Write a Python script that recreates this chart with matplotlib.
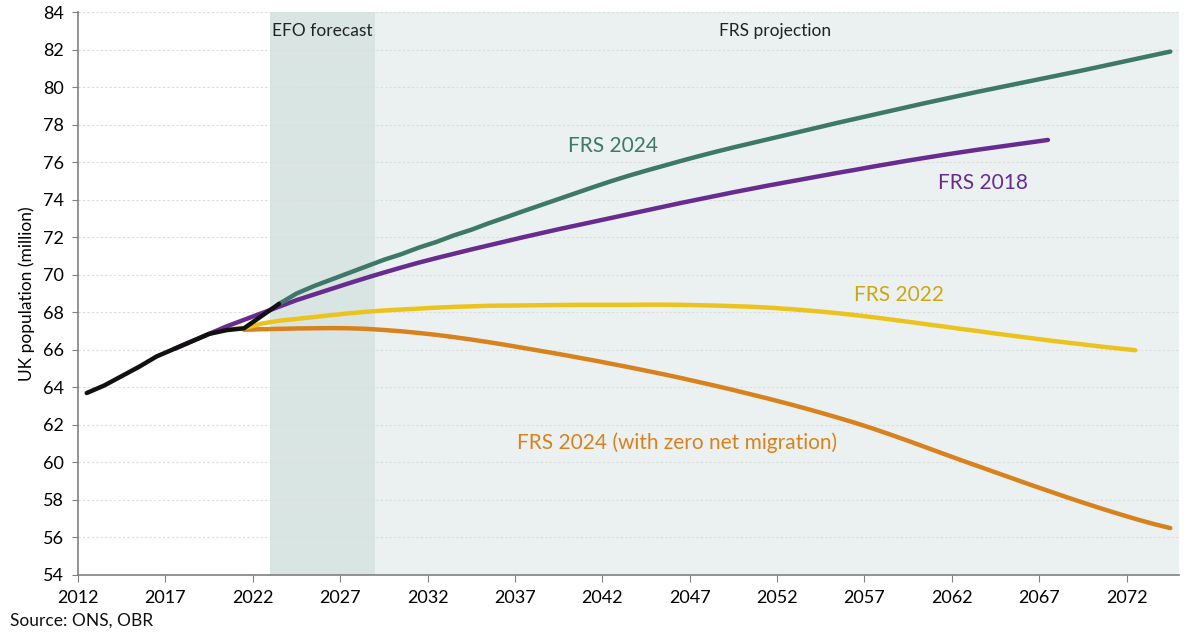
import matplotlib
matplotlib.use("Agg")
import matplotlib.pyplot as plt
import numpy as np

plt.rcParams['font.family'] = ['Lato', 'DejaVu Sans']

# ---- data (UK population, million) ----
outturn_years = list(range(2012, 2024))
outturn = [63.7, 64.1, 64.6, 65.1, 65.65, 66.05, 66.45, 66.85, 67.05, 67.15, 67.8, 68.45]

frs2018_years = list(range(2017, 2068))
frs2018 = [66.05, 66.45, 66.85, 67.25, 67.6, 67.95, 68.3, 68.65, 68.95, 69.25,
           69.55, 69.84, 70.12, 70.39, 70.65, 70.89, 71.12, 71.35, 71.57, 71.79,
           72.01, 72.22, 72.43, 72.63, 72.83, 73.03, 73.23, 73.43, 73.63, 73.83,
           74.02, 74.21, 74.4, 74.58, 74.76, 74.93, 75.1, 75.27, 75.44, 75.6,
           75.77, 75.93, 76.09, 76.24, 76.39, 76.53, 76.67, 76.8, 76.93, 77.06,
           77.19]

frs2024_years = list(range(2023, 2075))
frs2024 = [68.45, 69.0, 69.4, 69.75, 70.1, 70.45, 70.8, 71.1, 71.45, 71.75,
           72.1, 72.4, 72.75, 73.07, 73.4, 73.72, 74.04, 74.36, 74.68, 74.99,
           75.28, 75.55, 75.81, 76.07, 76.32, 76.56, 76.79, 77.01, 77.23, 77.45,
           77.67, 77.89, 78.11, 78.32, 78.53, 78.74, 78.95, 79.16, 79.36, 79.56,
           79.76, 79.95, 80.14, 80.33, 80.52, 80.71, 80.9, 81.1, 81.3, 81.5,
           81.7, 81.9]

frs2022_years = list(range(2020, 2073))
frs2022 = [67.1, 67.15, 67.4, 67.55, 67.65, 67.75, 67.85, 67.95, 68.03, 68.1,
           68.15, 68.2, 68.25, 68.29, 68.32, 68.35, 68.36, 68.37, 68.38, 68.39,
           68.4, 68.4, 68.4, 68.4, 68.41, 68.41, 68.4, 68.38, 68.36, 68.33,
           68.3, 68.25, 68.19, 68.12, 68.04, 67.95, 67.85, 67.74, 67.62, 67.5,
           67.37, 67.25, 67.12, 67.0, 66.87, 66.75, 66.63, 66.51, 66.4, 66.29,
           66.18, 66.08, 65.98]

zero_mig_years = list(range(2021, 2075))
zero_mig = [67.07, 67.1, 67.12, 67.14, 67.15, 67.16, 67.15, 67.12, 67.06, 66.99,
            66.9, 66.8, 66.68, 66.55, 66.41, 66.26, 66.1, 65.94, 65.78, 65.61,
            65.44, 65.26, 65.08, 64.89, 64.7, 64.5, 64.29, 64.08, 63.86, 63.63,
            63.4, 63.16, 62.91, 62.65, 62.38, 62.1, 61.8, 61.48, 61.15, 60.81,
            60.47, 60.13, 59.8, 59.47, 59.14, 58.81, 58.49, 58.17, 57.86, 57.56,
            57.27, 56.99, 56.73, 56.5]

efo_period = (2023, 2029)
frs_period = (2029, 2075)
x_ticks = list(range(2012, 2073, 5))
y_ticks = list(range(54, 85, 2))

# ---- colours ----
c_green = '#3D7868'
c_purple = '#682B8F'
c_yellow = '#EBC31C'
c_yellow_txt = '#C9A815'
c_orange = '#D8821E'
c_black = '#111111'

fig = plt.figure(figsize=(12, 6.41), dpi=100)
ax = fig.add_axes([0.065, 0.103, 0.9175, 0.878])

ax.axvspan(*efo_period, color='#D9E5E2', lw=0, zorder=0)
ax.axvspan(*frs_period, color='#EBF1F1', lw=0, zorder=0)
for y in y_ticks:
    ax.axhline(y, color='#DCDCDC', lw=0.8, ls=(0, (2, 2)), zorder=1)

def pos(years):
    return np.array(years) + 0.5

lw = 3.2
ax.plot(pos(zero_mig_years), zero_mig, color=c_orange, lw=lw, solid_capstyle='round', zorder=3)
ax.plot(pos(frs2022_years), frs2022, color=c_yellow, lw=lw, solid_capstyle='round', zorder=4)
ax.plot(pos(frs2018_years), frs2018, color=c_purple, lw=lw, solid_capstyle='round', zorder=5)
ax.plot(pos(frs2024_years), frs2024, color=c_green, lw=lw, solid_capstyle='round', zorder=6)
ax.plot(pos(outturn_years), outturn, color=c_black, lw=lw, solid_capstyle='round', zorder=7)

ax.set_xlim(2012, 2075)
ax.set_ylim(54, 84)
ax.set_xticks(x_ticks)
ax.set_xticklabels([str(t) for t in x_ticks], fontsize=13)
ax.set_yticks(y_ticks)
ax.set_yticklabels([str(t) for t in y_ticks], fontsize=13)
ax.tick_params(axis='x', direction='out', length=5, color='#808080', pad=6)
ax.tick_params(axis='y', direction='out', length=4, color='#808080', pad=6)
for s in ['top', 'right']:
    ax.spines[s].set_visible(False)
for s in ['left', 'bottom']:
    ax.spines[s].set_color('#808080')
    ax.spines[s].set_linewidth(1.2)
    ax.spines[s].set_zorder(8)

ax.set_ylabel('UK population (million)', fontsize=12.5, labelpad=6)

ax.text(2026.0, 83.0, 'EFO forecast', ha='center', va='center', fontsize=12.5, color='#222222')
ax.text(2051.9, 83.0, 'FRS projection', ha='center', va='center', fontsize=12.5, color='#222222')
ax.text(2042.6, 76.87, 'FRS 2024', ha='center', va='center', fontsize=15, color=c_green)
ax.text(2063.8, 74.9, 'FRS 2018', ha='center', va='center', fontsize=15, color=c_purple)
ax.text(2059.0, 68.94, 'FRS 2022', ha='center', va='center', fontsize=15, color=c_yellow_txt)
ax.text(2046.3, 61.05, 'FRS 2024 (with zero net migration)', ha='center', va='center',
        fontsize=15, color=c_orange)

fig.text(0.008, 0.02, 'Source: ONS, OBR', fontsize=12.5, color='#111111', ha='left', va='bottom')

fig.savefig('out.png', dpi=100)
